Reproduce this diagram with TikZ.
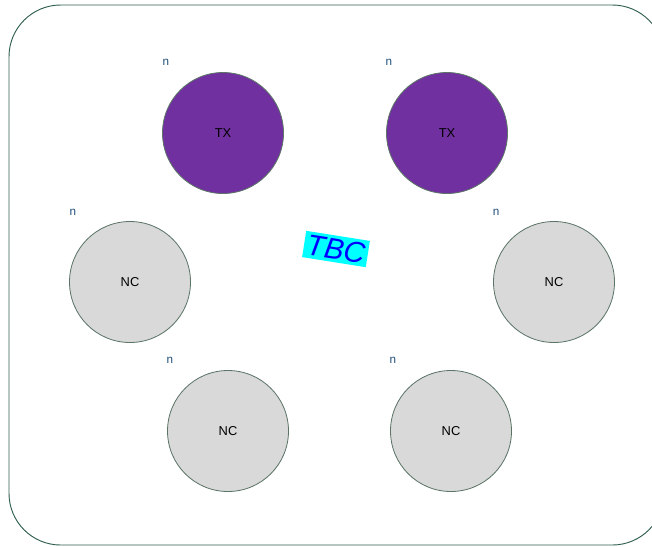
\documentclass[tikz,border=0pt]{standalone}
\usepackage{fontspec}
\setmainfont{Liberation Sans}
\usepackage{xcolor}
\definecolor{frame}{HTML}{2F5E4C}
\definecolor{ring}{HTML}{5B7466}
\definecolor{txfill}{HTML}{7030A0}
\definecolor{ncfill}{HTML}{D9D9D9}
\definecolor{tagcol}{HTML}{1F4E79}
\definecolor{tbcback}{RGB}{0,255,255}
\definecolor{tbctext}{RGB}{0,0,255}

\begin{document}
\begin{tikzpicture}[x=0.03cm, y=-0.03cm,
    unit/.style={circle, draw=ring, line width=0.7pt, minimum size=3.63cm,
                 inner sep=0pt, font=\fontsize{11}{13}\selectfont},
    txunit/.style={unit, fill=txfill},
    ncunit/.style={unit, fill=ncfill},
    tag/.style={text=tagcol, font=\fontsize{10}{12}\selectfont}]
    \useasboundingbox (0,0) rectangle (652,546);
    \draw[frame, line width=0.8pt, rounded corners=1.55cm] (9,5) rectangle (664,545);

    % transmitters
    \node[txunit] (tx1) at (223,133) {TX};
    \node[txunit] (tx2) at (447,133) {TX};
    % the other units
    \node[ncunit] (nc1) at (130,282) {NC};
    \node[ncunit] (nc2) at (554,282) {NC};
    \node[ncunit] (nc3) at (228,431) {NC};
    \node[ncunit] (nc4) at (451,431) {NC};

    \node[tag] (ntx1) at (166,62) {n};
    \node[tag] (ntx2) at (389,62) {n};
    \node[tag] (nnc1) at (73,212) {n};
    \node[tag] (nnc2) at (496,212) {n};
    \node[tag] (nnc3) at (170,360) {n};
    \node[tag] (nnc4) at (393,360) {n};

    \node[fill=tbcback, text=tbctext, rotate=-9, inner sep=2.5pt,
          font=\fontsize{25}{27}\selectfont\itshape] (tbc) at (336,249) {TBC};
  \end{tikzpicture}
\end{document}
